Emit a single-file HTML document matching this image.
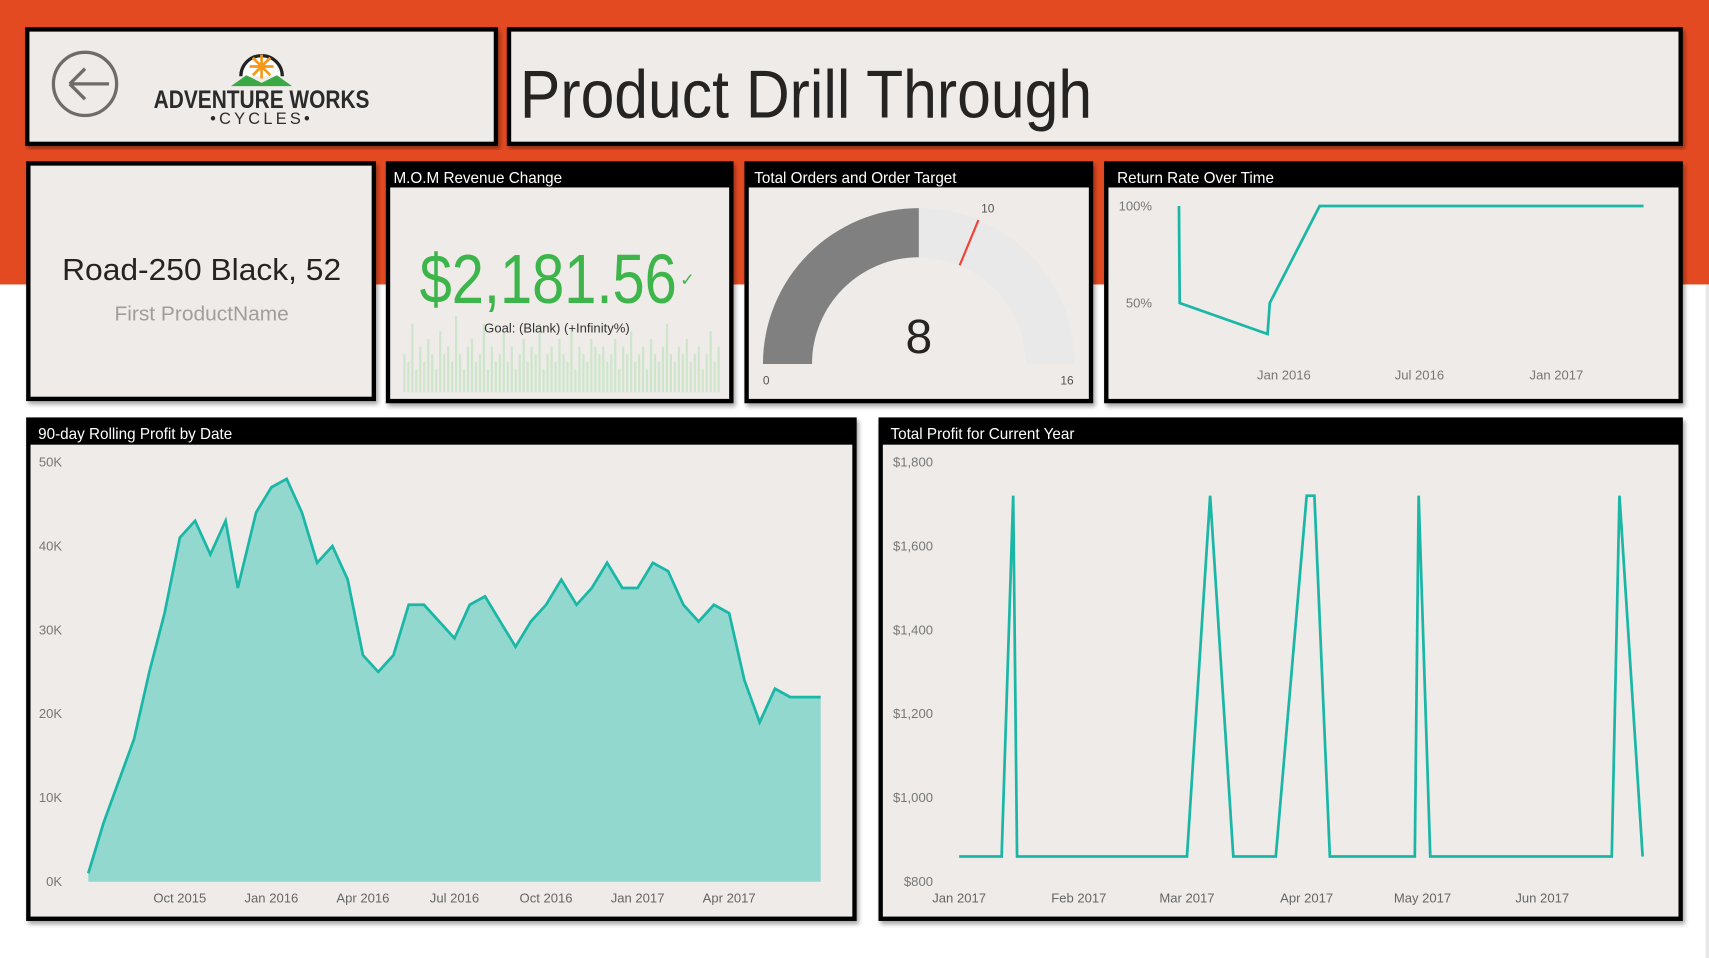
<!DOCTYPE html>
<html><head><meta charset="utf-8"><title>Product Drill Through</title>
<style>
html,body{margin:0;padding:0;background:#fff;overflow:hidden}
svg{display:block;font-family:"Liberation Sans",sans-serif}
</style></head>
<body>
<svg id="page" width="1709" height="958" viewBox="0 0 1568 879" preserveAspectRatio="none" xmlns="http://www.w3.org/2000/svg">
<defs>
<filter id="sh" x="-5%" y="-5%" width="110%" height="110%"><feDropShadow dx="2" dy="3" stdDeviation="2" flood-color="#000" flood-opacity="0.35"/></filter>
</defs>
<rect x="0" y="0" width="1568" height="261" fill="#e44a22"/>
<rect x="1565" y="261" width="3" height="618" fill="#e6e6e6"/>

<g>
<rect x="25" y="27" width="430" height="105" fill="#eeebe8" stroke="#000" stroke-width="4" filter="url(#sh)"/>
<g>
<circle cx="78" cy="77" r="29" fill="none" stroke="#6e6b69" stroke-width="3"/>
<path d="M64 77 H100 M64 77 L78 63 M64 77 L78 91" fill="none" stroke="#6e6b69" stroke-width="3"/>
</g>
<g>
<path d="M221 70 A19 19 0 1 1 259 70" fill="#fff" stroke="#222" stroke-width="3"/>
<path d="M240 50 L240 72 M229 61 L251 61 M232 53 L248 69 M248 53 L232 69" stroke="#f39a1e" stroke-width="2.5"/>
<path d="M212 79 L226 69 L240 76 L254 69 L268 79 Z" fill="#3aa945"/>
<text x="240" y="99" text-anchor="middle" font-size="23" font-weight="bold" fill="#2b2b2b" textLength="198" lengthAdjust="spacingAndGlyphs">ADVENTURE WORKS</text>
<text x="240" y="114" text-anchor="middle" font-size="15" fill="#2b2b2b" letter-spacing="3">•CYCLES•</text>
</g>
</g>

<g>
<rect x="467" y="27" width="1075" height="105" fill="#eeebe8" stroke="#000" stroke-width="4" filter="url(#sh)"/>
<text x="477" y="108" font-size="62" fill="#252423" textLength="525" lengthAdjust="spacingAndGlyphs">Product Drill Through</text>
</g>

<g>
<rect x="26" y="150" width="317" height="216" fill="#eeebe8" stroke="#000" stroke-width="4" filter="url(#sh)"/>
<text x="185" y="257" text-anchor="middle" font-size="28" fill="#252423" textLength="256" lengthAdjust="spacingAndGlyphs">Road-250 Black, 52</text>
<text x="185" y="294" text-anchor="middle" font-size="19" fill="#a09e9c" textLength="160" lengthAdjust="spacingAndGlyphs">First ProductName</text>
</g>

<g>
<rect x="356" y="150" width="315" height="218" fill="#eeebe8" stroke="#000" stroke-width="4" filter="url(#sh)"/>
<rect x="357" y="151" width="313" height="21" fill="#000"/>
<text x="361" y="168" font-size="14" fill="#fff">M.O.M Revenue Change</text>
<g id="spark"></g>
<text x="385" y="278" font-size="64" fill="#3db54a" textLength="236" lengthAdjust="spacingAndGlyphs">$2,181.56</text>
<text x="624" y="262" font-size="16" fill="#3db54a">✓</text>
<text x="511" y="305" text-anchor="middle" font-size="12" fill="#333">Goal: (Blank) (+Infinity%)</text>
</g>

<g>
<rect x="685" y="150" width="316" height="218" fill="#eeebe8" stroke="#000" stroke-width="4" filter="url(#sh)"/>
<rect x="686" y="151" width="314" height="21" fill="#000"/>
<text x="692" y="168" font-size="14" fill="#fff">Total Orders and Order Target</text>
<g id="gauge"></g>
</g>

<g>
<rect x="1015" y="150" width="527" height="218" fill="#eeebe8" stroke="#000" stroke-width="4" filter="url(#sh)"/>
<rect x="1016" y="151" width="525" height="21" fill="#000"/>
<text x="1025" y="168" font-size="14" fill="#fff">Return Rate Over Time</text>
<g id="ret"></g>
</g>

<g>
<rect x="26" y="385" width="758" height="458" fill="#eeebe8" stroke="#000" stroke-width="4" filter="url(#sh)"/>
<rect x="27" y="386" width="756" height="22" fill="#000"/>
<text x="35" y="403" font-size="14" fill="#fff">90-day Rolling Profit by Date</text>
<g id="area"></g>
</g>

<g>
<rect x="808" y="385" width="734" height="458" fill="#eeebe8" stroke="#000" stroke-width="4" filter="url(#sh)"/>
<rect x="809" y="386" width="732" height="22" fill="#000"/>
<text x="817" y="403" font-size="14" fill="#fff">Total Profit for Current Year</text>
<g id="profit"></g>
</g>
</svg>

<script>
const rollMonths = [0,0.5,1,1.5,2,2.5,3,3.5,4,4.5,4.9,5.5,6,6.5,7,7.5,8,8.5,9,9.5,10,10.5,11,11.5,12,12.5,13,13.5,14,14.5,15,15.5,16,16.5,17,17.5,18,18.5,19,19.5,20,20.5,21,21.5,22,22.5,23,23.5,24];
const rollValues = [1,7,12,17,25,32,41,43,39,43,35,44,47,48,44,38,40,36,27,25,27,33,33,31,29,33,34,31,28,31,33,36,33,35,38,35,35,38,37,33,31,33,32,24,19,23,22,22,22];
const rollTicks = ["Oct 2015","Jan 2016","Apr 2016","Jul 2016","Oct 2016","Jan 2017","Apr 2017"];
const rollTickMonths = [3,6,9,12,15,18,21];
const rollYTicks = [0,10,20,30,40,50];

const profitDays = [0,11,14,15,59,65,71,82,90,92,96,118,119,122,169,171,177];
const profitValues = [860,860,1720,860,860,1720,860,860,1720,1720,860,860,1720,860,860,1720,860];
const profitTicks = ["Jan 2017","Feb 2017","Mar 2017","Apr 2017","May 2017","Jun 2017"];
const profitTickDays = [0,31,59,90,120,151];
const profitYTicks = [800,1000,1200,1400,1600,1800];

const retDays = [-141,-140,-22,-19,48,483];
const retValues = [100,50,34,50,100,100];
const retTicks = ["Jan 2016","Jul 2016","Jan 2017"];
const retTickDays = [0,182,366];
const retYTicks = [50,100];

const gaugeValue = 8, gaugeTarget = 10, gaugeMin = 0, gaugeMax = 16;

const sparkValues = [0.5,0.4,0.9,0.3,0.6,0.4,0.7,0.5,0.3,0.8,0.5,0.6,0.4,1.0,0.5,0.3,0.6,0.7,0.4,0.5,0.9,0.3,0.6,0.4,0.5,0.8,0.4,0.6,0.3,0.5,0.7,0.4,0.6,0.5,0.9,0.3,0.5,0.6,0.4,0.7,0.5,0.4,0.8,0.3,0.6,0.5,0.4,0.7,0.6,0.5,0.6,0.4,0.5,0.7,0.3,0.6,0.5,0.8,0.4,0.5,0.6,0.3,0.7,0.5,0.4,0.6,0.9,0.5,0.4,0.6,0.5,0.7,0.4,0.5,0.6,0.3,0.5,0.8,0.4,0.6];

const NS = "http://www.w3.org/2000/svg";
function mk(parent, tag, attrs, txt){const e=document.createElementNS(NS,tag);for(const k in attrs)e.setAttribute(k,attrs[k]);if(txt!==undefined)e.textContent=txt;parent.appendChild(e);return e;}

(function(){
 const g=document.getElementById('spark');
 const x0=370,x1=662,yb=360,h=70,w=(x1-x0)/sparkValues.length;
 sparkValues.forEach((v,i)=>{
  const r=mk(g,'rect',{x:x0+i*w,y:yb-v*h,width:w*0.55,height:v*h,fill:'#cde6cb'});
  
  
 });
})();

(function(){
 const g=document.getElementById('gauge');
 const cx=843,cy=334,ro=143,ri=98;
 const ang=v=>Math.PI*(1-(v-gaugeMin)/(gaugeMax-gaugeMin));
 function arc(a0,a1){
  const p=(r,a)=>[cx+r*Math.cos(a),cy-r*Math.sin(a)];
  const [x0,y0]=p(ro,a0),[x1,y1]=p(ro,a1),[x2,y2]=p(ri,a1),[x3,y3]=p(ri,a0);
  return `M${x0} ${y0} A${ro} ${ro} 0 0 1 ${x1} ${y1} L${x2} ${y2} A${ri} ${ri} 0 0 0 ${x3} ${y3} Z`;
 }
 const bg=mk(g,'path',{d:arc(ang(gaugeMin),ang(gaugeMax)),fill:'#e9e9e9'});
 
 
 const fg=mk(g,'path',{d:arc(ang(gaugeMin),ang(gaugeValue)),fill:'#808080'});
 
 
 const a=ang(gaugeTarget);
 const t=mk(g,'line',{x1:cx+ri*Math.cos(a),y1:cy-ri*Math.sin(a),x2:cx+ro*Math.cos(a),y2:cy-ro*Math.sin(a),stroke:'#f0433a','stroke-width':2});
 
 
 const tl=mk(g,'text',{x:cx+(ro+12)*Math.cos(a)+4,y:cy-(ro+12)*Math.sin(a)+4,'font-size':11,fill:'#555','text-anchor':'middle'},String(gaugeTarget));
 
 
 const v=mk(g,'text',{x:cx,y:cy-10,'font-size':44,fill:'#252423','text-anchor':'middle'},String(gaugeValue));
 
 
 const mn=mk(g,'text',{x:703,y:353,'font-size':11,fill:'#555','text-anchor':'middle'},String(gaugeMin));
 
 
 const mx=mk(g,'text',{x:979,y:353,'font-size':11,fill:'#555','text-anchor':'middle'},String(gaugeMax));
 
 
})();

(function(){
 const g=document.getElementById('ret');
 const X=d=>1178+d*(1428-1178)/366, Y=v=>189+(100-v)*(278-189)/50;
 retYTicks.forEach(v=>{const t=mk(g,'text',{x:1057,y:Y(v)+4,'font-size':12,fill:'#777','text-anchor':'end'},v+'%');
  });
 retTicks.forEach((s,i)=>{const t=mk(g,'text',{x:X(retTickDays[i]),y:348,'font-size':12,fill:'#777','text-anchor':'middle'},s);
  });
 const p=mk(g,'polyline',{points:retDays.map((d,i)=>X(d)+','+Y(retValues[i])).join(' '),fill:'none',stroke:'#1bb7a6','stroke-width':2.5});
 
 
})();

(function(){
 const g=document.getElementById('area');
 const X=m=>81+m*28, Y=v=>809-v*(809-424)/50;
 rollYTicks.forEach(v=>{const t=mk(g,'text',{x:57,y:Y(v)+4,'font-size':12,fill:'#777','text-anchor':'end'},v+'K');
  });
 rollTicks.forEach((s,i)=>{const t=mk(g,'text',{x:X(rollTickMonths[i]),y:828,'font-size':12,fill:'#666','text-anchor':'middle'},s);
  });
 const pts=rollMonths.map((m,i)=>X(m)+','+Y(rollValues[i]));
 const a=mk(g,'polygon',{points:X(rollMonths[0])+','+Y(0)+' '+pts.join(' ')+' '+X(rollMonths[rollMonths.length-1])+','+Y(0),fill:'#92d8cf'});
 
 
 const l=mk(g,'polyline',{points:pts.join(' '),fill:'none',stroke:'#1bb7a6','stroke-width':2.5});
 
 
})();

(function(){
 const g=document.getElementById('profit');
 const X=d=>880+d*(1415-880)/151, Y=v=>809-(v-800)*(809-424)/1000;
 profitYTicks.forEach(v=>{const t=mk(g,'text',{x:856,y:Y(v)+4,'font-size':12,fill:'#777','text-anchor':'end'},'$'+v.toLocaleString('en-US'));
  });
 profitTicks.forEach((s,i)=>{const t=mk(g,'text',{x:X(profitTickDays[i]),y:828,'font-size':12,fill:'#666','text-anchor':'middle'},s);
  });
 const l=mk(g,'polyline',{points:profitDays.map((d,i)=>X(d)+','+Y(profitValues[i])).join(' '),fill:'none',stroke:'#1bb7a6','stroke-width':2.5});
 
 
})();
</script>
</body></html>
